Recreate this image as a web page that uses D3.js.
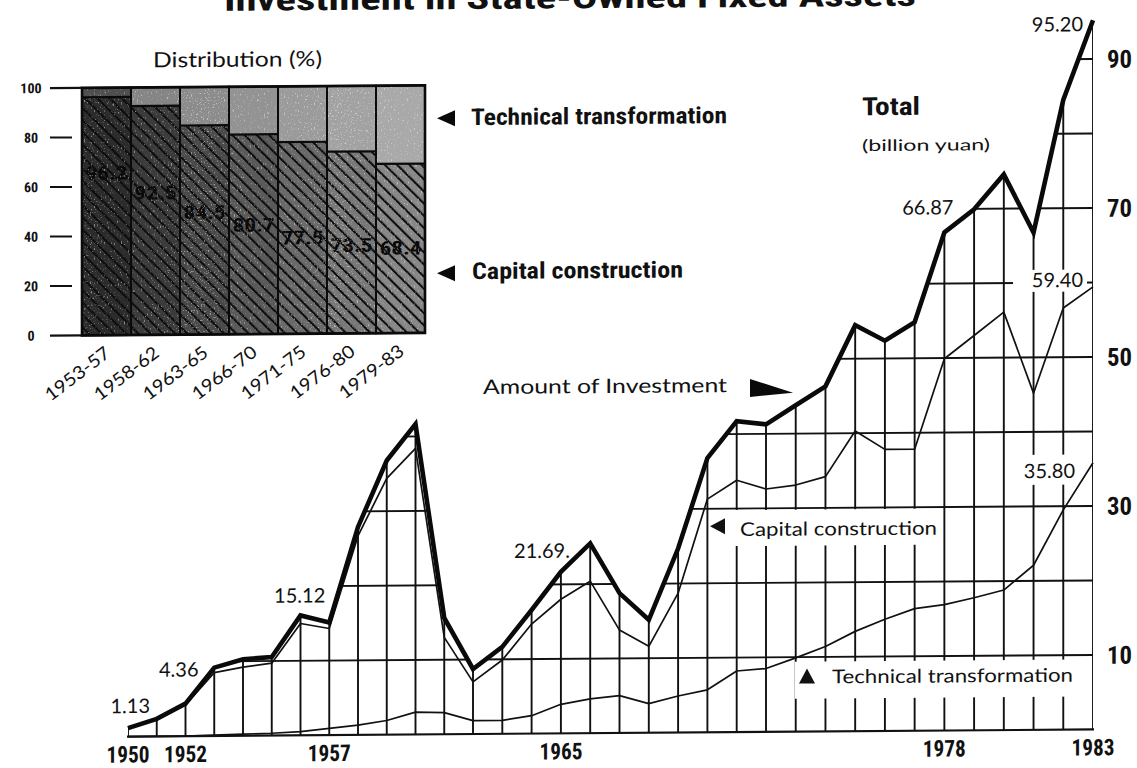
<!DOCTYPE html>
<html>
<head>
<meta charset="utf-8">
<script src="https://cdn.jsdelivr.net/npm/d3@7"></script>
<style>
  html, body { margin: 0; padding: 0; background: #fff; }
  svg { display: block; }
</style>
</head>
<body>
<svg id="chart" width="1137" height="768"></svg>
<script>
// ---- Data -------------------------------------------------------------
const years = [1950, 1951, 1952, 1953, 1954, 1955, 1956, 1957, 1958, 1959,
               1960, 1961, 1962, 1963, 1964, 1965, 1966, 1967, 1968, 1969,
               1970, 1971, 1972, 1973, 1974, 1975, 1976, 1977, 1978, 1979,
               1980, 1981, 1982, 1983];

// billion yuan
const totalInvestment = [1.13, 2.35, 4.36, 9.16, 10.27, 10.52, 16.08, 15.12, 27.91, 36.80,
                         41.66, 15.61, 8.73, 11.67, 16.59, 21.69, 25.48, 18.77, 15.16, 24.69,
                         36.81, 41.73, 41.28, 43.81, 46.32, 54.49, 52.39, 54.83, 66.87, 69.94,
                         74.59, 66.75, 84.53, 95.20];

const capitalConstruction = [1.10, 2.30, 4.20, 8.50, 9.20, 9.70, 15.00, 14.30, 26.70, 34.40,
                             38.40, 13.00, 7.00, 9.90, 14.70, 18.00, 20.40, 13.80, 11.60, 18.70,
                             31.30, 33.80, 32.60, 33.10, 34.20, 40.30, 37.80, 37.80, 49.90, 53.00,
                             56.10, 45.20, 56.60, 59.40];

const technicalTransformation = [0.0, 0.0, 0.0, 0.1, 0.2, 0.3, 0.5, 0.9, 1.3, 1.9,
                                 3.0, 2.9, 1.8, 1.8, 2.4, 3.9, 4.6, 5.0, 3.9, 4.9,
                                 5.7, 8.2, 8.5, 9.9, 11.4, 13.4, 15.0, 16.4, 16.9, 17.8,
                                 18.8, 22.1, 29.5, 35.80];

const amountTicks = [10, 30, 50, 70, 90];
const gridLevels = [10, 20, 30, 40, 50, 60, 70, 80, 90];
const yearLabels = [1950, 1952, 1957, 1965, 1978, 1983];

// Distribution by plan period (%)
const periods = ["1953-57", "1958-62", "1963-65", "1966-70", "1971-75", "1976-80", "1979-83"];
const capitalShare = [96.2, 92.5, 84.5, 80.7, 77.5, 73.5, 68.4];
const shareTicks = [0, 20, 40, 60, 80, 100];

// ---- Fonts ------------------------------------------------------------
const GEO = "Lato, 'Noto Sans', 'Open Sans', sans-serif";
const COND = "'Liberation Sans Narrow', 'Roboto Condensed', 'DejaVu Sans Condensed', 'Liberation Sans', Arial, sans-serif";

const svg = d3.select("#chart");
const defs = svg.append("defs");

// the whole sheet sits with a slight slant
const root = svg.append("g").attr("transform", "translate(0,4.47) skewY(-0.42)");

function label(g, txt, x, y, opts) {
  const t = g.append("text")
    .attr("x", x).attr("y", y)
    .attr("font-family", opts.family || GEO)
    .attr("font-size", opts.size || 19)
    .attr("font-weight", opts.weight || "normal")
    .attr("text-anchor", opts.anchor || "start")
    .attr("fill", opts.fill || "#111")
    .text(txt);
  if (opts.len) t.attr("textLength", opts.len).attr("lengthAdjust", "spacingAndGlyphs");
  return t;
}

// ---- Title (runs off the top edge) ------------------------------------
label(root, "Investment in State-Owned Fixed Assets", 224, 8,
      { family: COND, size: 31, weight: "bold", len: 692 });

// ---- Main line chart --------------------------------------------------
const x = d3.scaleLinear()
  .domain([1950, 1962, 1972, 1983])
  .range([128, 473, 766, 1093]);
const y = d3.scaleLinear().domain([0, 100]).range([733, -12]);

const rows = years.map((yr, i) => ({
  year: yr,
  total: totalInvestment[i],
  capital: capitalConstruction[i],
  tech: technicalTransformation[i]
}));

const under = d3.area()
  .x(d => x(d.year))
  .y0(y(0))
  .y1(d => y(d.total));

defs.append("clipPath").attr("id", "under-total")
  .append("path").attr("d", under(rows));

const grid = root.append("g")
  .attr("clip-path", "url(#under-total)")
  .attr("stroke", "#111")
  .attr("stroke-width", 1.9);

grid.selectAll("line.h").data(gridLevels).join("line")
  .attr("class", "h")
  .attr("x1", x(1950)).attr("x2", x(1983))
  .attr("y1", d => y(d)).attr("y2", d => y(d));

grid.selectAll("line.v").data(rows).join("line")
  .attr("class", "v")
  .attr("x1", d => x(d.year)).attr("x2", d => x(d.year))
  .attr("y1", y(0)).attr("y2", d => y(d.total));

// baseline
root.append("line")
  .attr("x1", x(1950) - 1).attr("x2", x(1983) + 1)
  .attr("y1", y(0)).attr("y2", y(0))
  .attr("stroke", "#111").attr("stroke-width", 2.2);

// white plates under the in-chart captions
const plates = root.append("g").attr("fill", "#fff");
plates.append("rect").attr("x", 712).attr("y", 511).attr("width", 230).attr("height", 36);
plates.append("rect").attr("x", 795).attr("y", 663).attr("width", 285).attr("height", 37);
plates.append("rect").attr("x", 1013).attr("y", 273).attr("width", 74).attr("height", 22);
plates.append("rect").attr("x", 1008).attr("y", 458).attr("width", 70).attr("height", 30);

// series lines
const line = key => d3.line().x(d => x(d.year)).y(d => y(d[key]));

root.append("path").datum(rows)
  .attr("d", line("tech"))
  .attr("fill", "none").attr("stroke", "#111").attr("stroke-width", 1.7)
  .attr("stroke-linejoin", "round");
root.append("path").datum(rows)
  .attr("d", line("capital"))
  .attr("fill", "none").attr("stroke", "#111").attr("stroke-width", 1.7)
  .attr("stroke-linejoin", "round");
root.append("path").datum(rows)
  .attr("d", line("total"))
  .attr("fill", "none").attr("stroke", "#0a0a0a").attr("stroke-width", 4.6)
  .attr("stroke-linejoin", "miter").attr("stroke-miterlimit", 3);

// value call-outs, text taken from the data
const idx = yr => years.indexOf(yr);
const callouts = [
  { yr: 1950, key: "total", dx: 22, dy: -15, suffix: "" },
  { yr: 1952, key: "total", dx: 13, dy: -27, suffix: "" },
  { yr: 1957, key: "total", dx: -4, dy: -20, suffix: "" },
  { yr: 1965, key: "total", dx: 9, dy: -14, suffix: "." },
  { yr: 1978, key: "total", dx: 9, dy: -18, suffix: "" },
  { yr: 1983, key: "total", dx: -10, dy: 11, suffix: "" },
  { yr: 1983, key: "capital", dx: -10, dy: 0, suffix: "" },
  { yr: 1983, key: "tech", dx: -18, dy: 15, suffix: "" }
];
callouts.forEach(c => {
  const d = rows[idx(c.yr)];
  label(root, d[c.key].toFixed(2) + c.suffix, x(d.year) + c.dx, y(d[c.key]) + c.dy,
        { size: 20, anchor: "end" });
});

// right-hand value axis
amountTicks.forEach(v => {
  label(root, v, 1107, y(v) + 9, { family: COND, size: 25, weight: "bold", len: 25 });
});

// year labels
yearLabels.forEach(yr => {
  label(root, yr, x(yr), 759, { family: COND, size: 23, weight: "bold", anchor: "middle", len: 43 });
});

// captions
label(root, "Total", 862, 117, { family: COND, size: 25, weight: "bold", len: 58 });
label(root, "(billion yuan)", 862, 153, { size: 16, len: 128 });
label(root, "Amount of Investment", 483, 393, { size: 20, len: 244 });
root.append("path").attr("d", "M750,380 L793,394 L750,398 Z").attr("fill", "#0a0a0a");

root.append("path").attr("d", "M710,527 L725,519 L725,535 Z").attr("fill", "#111");
label(root, "Capital construction", 740, 537, { size: 19, len: 197 });

root.append("path").attr("d", "M807,670 L815,685 L799,685 Z").attr("fill", "#111");
label(root, "Technical transformation", 832, 685, { size: 19, len: 241 });

// ---- Inset: distribution by period -----------------------------------
const xb = d3.scaleBand().domain(periods).range([82, 425]).padding(0);
const yi = d3.scaleLinear().domain([0, 100]).range([331.5, 84]);

const capColor = d3.scaleLinear().domain([0, 6]).range(["#2c2c2c", "#878787"]);
const techColor = d3.scaleLinear().domain([0, 1, 6]).range(["#4e4e4e", "#858585", "#a9a9a9"]);

const hatch = defs.append("pattern").attr("id", "hatch")
  .attr("patternUnits", "userSpaceOnUse")
  .attr("width", 8.6).attr("height", 8.6)
  .attr("patternTransform", "rotate(-45)");
hatch.append("line").attr("x1", 2).attr("y1", 0).attr("x2", 2).attr("y2", 8.6)
  .attr("stroke", "#0d0d0d").attr("stroke-width", 2.1);

const grain = defs.append("filter").attr("id", "grain")
  .attr("x", 0).attr("y", 0).attr("width", 1).attr("height", 1);
grain.append("feTurbulence").attr("type", "fractalNoise")
  .attr("baseFrequency", 0.7).attr("numOctaves", 2).attr("seed", 7).attr("result", "n");
grain.append("feColorMatrix").attr("in", "n").attr("type", "matrix")
  .attr("values", "0 0 0 0 1  0 0 0 0 1  0 0 0 0 1  7 0 0 0 -4.1");

const inset = root.append("g");
const shares = periods.map((p, i) => ({ p, cap: capitalShare[i], i }));

inset.selectAll("rect.tech").data(shares).join("rect")
  .attr("x", d => xb(d.p)).attr("width", xb.bandwidth())
  .attr("y", yi(100)).attr("height", d => yi(d.cap) - yi(100))
  .attr("fill", d => techColor(d.i));
inset.selectAll("rect.cap").data(shares).join("rect")
  .attr("x", d => xb(d.p)).attr("width", xb.bandwidth())
  .attr("y", d => yi(d.cap)).attr("height", d => yi(0) - yi(d.cap))
  .attr("fill", d => capColor(d.i));

// share labels sit low in each bar, stepping down to the right; the hatching runs over them
const labelDrop = [0, 20, 40, 53, 66, 74, 77];
inset.selectAll("text.share").data(shares).join("text")
  .attr("x", d => xb(d.p) + xb.bandwidth() / 2)
  .attr("y", d => 176 + labelDrop[d.i])
  .attr("text-anchor", "middle")
  .attr("font-family", COND).attr("font-weight", "bold").attr("font-size", 19)
  .attr("textLength", 42).attr("lengthAdjust", "spacingAndGlyphs")
  .attr("fill", "#080808")
  .text(d => d.cap.toFixed(1));

inset.selectAll("rect.hatch").data(shares).join("rect")
  .attr("x", d => xb(d.p)).attr("width", xb.bandwidth())
  .attr("y", d => yi(d.cap)).attr("height", d => yi(0) - yi(d.cap))
  .attr("fill", "url(#hatch)");
inset.append("rect")
  .attr("x", xb.range()[0]).attr("width", xb.range()[1] - xb.range()[0])
  .attr("y", yi(100)).attr("height", yi(0) - yi(100))
  .attr("filter", "url(#grain)").attr("opacity", 0.45);

// outlines
inset.selectAll("rect.frame").data(shares).join("rect")
  .attr("x", d => xb(d.p)).attr("width", xb.bandwidth())
  .attr("y", yi(100)).attr("height", yi(0) - yi(100))
  .attr("fill", "none").attr("stroke", "#0a0a0a").attr("stroke-width", 2);
inset.selectAll("line.split").data(shares).join("line")
  .attr("x1", d => xb(d.p)).attr("x2", d => xb(d.p) + xb.bandwidth())
  .attr("y1", d => yi(d.cap)).attr("y2", d => yi(d.cap))
  .attr("stroke", "#0a0a0a").attr("stroke-width", 2.2);
inset.append("rect").attr("x", xb.range()[0]).attr("y", yi(100))
  .attr("width", xb.range()[1] - xb.range()[0]).attr("height", yi(0) - yi(100))
  .attr("fill", "none").attr("stroke", "#0a0a0a").attr("stroke-width", 2.6);

// left scale column
inset.append("line").attr("x1", 50).attr("x2", 82).attr("y1", yi(100)).attr("y2", yi(100))
  .attr("stroke", "#111").attr("stroke-width", 2.2);
inset.append("line").attr("x1", 50).attr("x2", 82).attr("y1", yi(0)).attr("y2", yi(0))
  .attr("stroke", "#111").attr("stroke-width", 2.2);
inset.selectAll("line.tick").data(shareTicks.filter(v => v > 0 && v < 100)).join("line")
  .attr("x1", 50).attr("x2", 72).attr("y1", d => yi(d)).attr("y2", d => yi(d))
  .attr("stroke", "#111").attr("stroke-width", 2);
shareTicks.forEach(v => {
  label(inset, v, 31, yi(v) + 5, { family: COND, size: 14, weight: "bold", anchor: "middle" });
});

// period labels, slanted
periods.forEach(p => {
  const cx = xb(p) + xb.bandwidth() / 2 + 5;
  label(inset, p, 0, 0, { size: 18, anchor: "end", len: 76 })
    .attr("transform", `translate(${cx},352) rotate(-37)`);
});

label(root, "Distribution (%)", 153, 64, { size: 21, len: 169 });

// inset keys
root.append("path").attr("d", "M437,117 L455,109 L455,125 Z").attr("fill", "#0a0a0a");
label(root, "Technical transformation", 471, 124, { family: COND, size: 23, weight: "bold", len: 256 });
root.append("path").attr("d", "M437,272 L455,264 L455,280 Z").attr("fill", "#0a0a0a");
label(root, "Capital construction", 472, 278, { family: COND, size: 23, weight: "bold", len: 211 });
</script>
</body>
</html>
